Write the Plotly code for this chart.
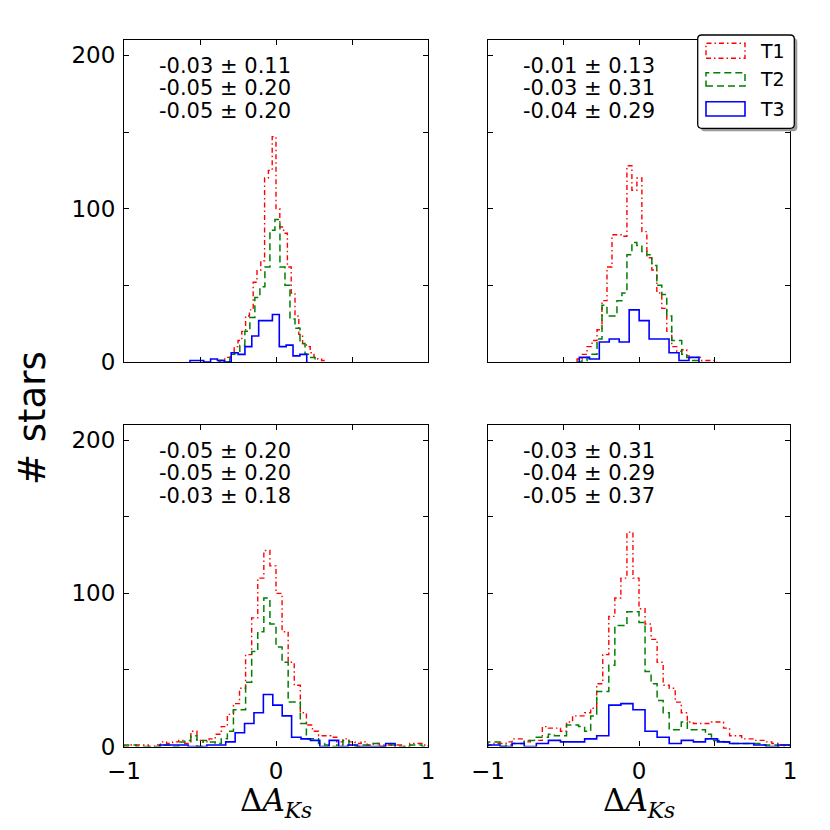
import numpy as np
import plotly.graph_objects as go
from plotly.subplots import make_subplots

W = H = 830

# ---------------- data (bin start, bin width, counts) ----------------
# Panel A (top-left)
A_T1_start, A_T1_w = -0.375, 0.025
A_T1 = [1, 2, 3, 5, 10, 14, 20, 30, 34, 52, 60, 66, 120, 125, 147, 100, 88, 84,
        62, 45, 30, 18, 12, 10, 6, 3, 2, 1]
A_T2_start, A_T2_w = -0.37, 0.033
A_T2 = [1, 0, 5, 6, 11, 20, 29, 42, 49, 62, 86, 93, 62, 50, 28, 22, 12, 5, 3]
A_T3_start, A_T3_w = -0.566, 0.0452
A_T3 = [1, 1, 0, 2, 1, 0, 6, 5, 10, 17, 27, 27, 31, 10, 11, 4, 5]

# Panel B (top-right)
B_T1_start, B_T1_w = -0.41, 0.033
B_T1 = [2, 5, 10, 14, 21, 40, 62, 83, 83, 82, 128, 112, 120, 85, 68, 60, 45,
        35, 20, 10, 7, 8, 4, 3, 3, 1, 1, 1]
B_T2_start, B_T2_w = -0.41, 0.033
B_T2 = [0, 1, 3, 5, 15, 37, 30, 30, 40, 45, 70, 78, 76, 72, 70, 63, 50, 44,
        30, 14, 14, 5, 3, 1, 1]
B_T3_start, B_T3_w = -0.395, 0.066
B_T3 = [3, 2, 13, 15, 13, 34, 27, 15, 15, 6, 1, 3]

# Panel C (bottom-left)
C_T1_start, C_T1_w = -1.0, 0.04
C_T1 = [0, 1, 1, 1, 0, 1, 3, 2, 3, 4, 2, 10, 4, 3, 5, 8, 13, 21, 28, 38, 60,
        84, 110, 128, 118, 100, 75, 55, 40, 22, 14, 10, 7, 7, 6, 3, 5, 3, 2,
        3, 1, 2, 1, 1, 0, 1, 0, 2, 2, 1]
C_T2_start, C_T2_w = -1.0, 0.04
C_T2 = [1, 1, 0, 0, 0, 0, 1, 1, 0, 3, 4, 7, 0, 4, 3, 2, 5, 10, 24, 24, 42,
        62, 75, 97, 80, 65, 55, 29, 29, 15, 5, 5, 2, 1, 0, 1, 4, 1, 0, 1, 1,
        2, 0, 1, 1, 0, 0, 1, 1, 0]
C_T3_start, C_T3_w = -0.764, 0.0619
C_T3 = [1, 1, 1, 0, 0, 1, 1, 3, 9, 15, 22, 34, 27, 20, 6, 5, 4, 0, 4, 0, 1,
        0, 0, 0, 2]

# Panel D (bottom-right)
D_T1_start, D_T1_w = -1.0, 0.04
D_T1 = [1, 2, 2, 3, 5, 5, 3, 4, 4, 13, 12, 12, 10, 16, 20, 20, 22, 25, 41,
        60, 85, 97, 110, 140, 110, 90, 80, 70, 55, 40, 38, 29, 22, 16, 15, 15,
        15, 16, 16, 12, 7, 7, 5, 5, 4, 4, 3, 2, 1, 1]
D_T2_start, D_T2_w = -1.0, 0.04
D_T2 = [3, 3, 0, 1, 2, 2, 4, 4, 6, 6, 8, 7, 7, 14, 14, 13, 10, 20, 36, 36,
        53, 79, 79, 88, 88, 81, 49, 41, 30, 22, 11, 11, 16, 11, 11, 11, 8, 4,
        4, 3, 2, 2, 2, 2, 2, 1, 1, 1, 0, 1]
D_T3_start, D_T3_w = -1.0, 0.08
D_T3 = [1, 0, 2, 0, 2, 4, 3, 3, 5, 7, 27, 28, 24, 10, 6, 2, 4, 3, 5, 3, 2, 2,
        1, 0, 1]

stats_A = ["-0.03 ± 0.11", "-0.05 ± 0.20", "-0.05 ± 0.20"]
stats_B = ["-0.01 ± 0.13", "-0.03 ± 0.31", "-0.04 ± 0.29"]
stats_C = ["-0.05 ± 0.20", "-0.05 ± 0.20", "-0.03 ± 0.18"]
stats_D = ["-0.03 ± 0.31", "-0.04 ± 0.29", "-0.05 ± 0.37"]

series_names = ["T1", "T2", "T3"]
x_tickvals = [-1, 0, 1]
x_ticktext = ["−1", "0", "1"]
x_minor = [-0.5, 0.5]
y_tickvals = [0, 100, 200]
y_ticktext = ["0", "100", "200"]
y_minor = [50, 150]

# ---------------- styles ----------------
COL = {"T1": "#ff0000", "T2": "#008000", "T3": "#0000ff"}
DASH = {"T1": "5px,3px,1.5px,3px", "T2": "7px,4px", "T3": "solid"}
LW = {"T1": 1.4, "T2": 1.5, "T3": 1.6}


def step_xy(start, width, counts):
    edges = start + width * np.arange(len(counts) + 1)
    x = [edges[0]] + list(edges[:-1]) + [edges[-1]]
    y = [0] + list(counts) + [0]
    return x, y


panels = [
    (1, 1, [(A_T1_start, A_T1_w, A_T1), (A_T2_start, A_T2_w, A_T2), (A_T3_start, A_T3_w, A_T3)], stats_A),
    (1, 2, [(B_T1_start, B_T1_w, B_T1), (B_T2_start, B_T2_w, B_T2), (B_T3_start, B_T3_w, B_T3)], stats_B),
    (2, 1, [(C_T1_start, C_T1_w, C_T1), (C_T2_start, C_T2_w, C_T2), (C_T3_start, C_T3_w, C_T3)], stats_C),
    (2, 2, [(D_T1_start, D_T1_w, D_T1), (D_T2_start, D_T2_w, D_T2), (D_T3_start, D_T3_w, D_T3)], stats_D),
]

fig = make_subplots(rows=2, cols=2)

for r, c, series, _ in panels:
    for name, (s, w, cnt) in zip(series_names, series):
        x, y = step_xy(s, w, cnt)
        fig.add_trace(go.Scatter(x=x, y=y, mode="lines", line_shape="hv",
                                 line=dict(color=COL[name], width=LW[name], dash=DASH[name]),
                                 name=name, showlegend=False, hoverinfo="skip"),
                      row=r, col=c)

# pixel geometry
colx = {1: (124, 428), 2: (488, 790)}
rowy = {1: (40, 362), 2: (425, 746.5)}

def px(v):
    return v / W

def py(v):
    return 1 - v / H

axis_common = dict(showline=True, linecolor="black", linewidth=1.2, mirror="ticks",
                   ticks="inside", ticklen=5, tickwidth=1, tickcolor="black",
                   showgrid=False, zeroline=False, automargin=False,
                   tickfont=dict(family="DejaVu Sans", size=23, color="black"))

for r in (1, 2):
    for c in (1, 2):
        fig.update_xaxes(domain=[px(colx[c][0]), px(colx[c][1])], range=[-1, 1],
                         tickvals=x_tickvals, ticktext=x_ticktext,
                         minor=dict(tickvals=x_minor, ticks="inside", ticklen=5,
                                    tickwidth=1, tickcolor="black", showgrid=False),
                         showticklabels=(r == 2), ticklabelstandoff=4,
                         row=r, col=c, **axis_common)
        fig.update_yaxes(domain=[py(rowy[r][1]), py(rowy[r][0])], range=[0, 210],
                         tickvals=y_tickvals, ticktext=y_ticktext,
                         minor=dict(tickvals=y_minor, ticks="inside", ticklen=5,
                                    tickwidth=1, tickcolor="black", showgrid=False),
                         showticklabels=(c == 1), ticklabelstandoff=3,
                         row=r, col=c, **axis_common)

annotations = []
for r, c, _, stats in panels:
    x0 = colx[c][0] + 33
    for i, t in enumerate(stats):
        yc = rowy[r][0] + 25.8 + 22.5 * i
        annotations.append(dict(x=px(x0), y=py(yc), xref="paper", yref="paper",
                                text=t, showarrow=False, xanchor="left", yanchor="middle",
                                font=dict(family="DejaVu Sans", size=21, color="black")))

# x-axis titles
for c in (1, 2):
    xc = (colx[c][0] + colx[c][1]) / 2
    annotations.append(dict(x=px(xc), y=py(802), xref="paper", yref="paper",
                            text="Δ<i>A</i><sub><i>Ks</i></sub>", showarrow=False,
                            xanchor="center", yanchor="middle",
                            font=dict(family="DejaVu Serif", size=31, color="black")))

# y-axis title
annotations.append(dict(x=px(32), y=py(418), xref="paper", yref="paper",
                        text="# stars", showarrow=False, textangle=-90,
                        xanchor="center", yanchor="middle",
                        font=dict(family="DejaVu Sans", size=37, color="black")))

# legend (drawn manually to mimic matplotlib patch legend)
shapes = []
lx0, lx1, ly0, ly1 = 697.7, 794.3, 35, 128.3

def rounded_path(x0, y0, x1, y1, rad):
    X = lambda v: px(v)
    Y = lambda v: py(v)
    return (f"M {X(x0+rad)},{Y(y0)} L {X(x1-rad)},{Y(y0)} Q {X(x1)},{Y(y0)} {X(x1)},{Y(y0+rad)} "
            f"L {X(x1)},{Y(y1-rad)} Q {X(x1)},{Y(y1)} {X(x1-rad)},{Y(y1)} "
            f"L {X(x0+rad)},{Y(y1)} Q {X(x0)},{Y(y1)} {X(x0)},{Y(y1-rad)} "
            f"L {X(x0)},{Y(y0+rad)} Q {X(x0)},{Y(y0)} {X(x0+rad)},{Y(y0)} Z")

shapes.append(dict(type="path", xref="paper", yref="paper", layer="above",
                   path=rounded_path(lx0 + 3, ly0 + 3, lx1 + 3, ly1 + 3, 4),
                   fillcolor="#9a9a9a", line=dict(width=0)))
shapes.append(dict(type="path", xref="paper", yref="paper", layer="above",
                   path=rounded_path(lx0, ly0, lx1, ly1, 4),
                   fillcolor="white", line=dict(color="black", width=1.3)))

patch_y = [(43.3, 58.3), (72.7, 86.0), (101.7, 116.0)]
for name, (y0, y1) in zip(series_names, patch_y):
    shapes.append(dict(type="rect", xref="paper", yref="paper", layer="above",
                       x0=px(706), x1=px(745), y0=py(y1), y1=py(y0),
                       line=dict(color=COL[name], width=LW[name], dash=DASH[name]),
                       fillcolor="rgba(0,0,0,0)"))
    annotations.append(dict(x=px(758), y=py((y0 + y1) / 2), xref="paper", yref="paper",
                            text=name, showarrow=False, xanchor="left", yanchor="middle",
                            font=dict(family="DejaVu Sans", size=19, color="black")))

fig.update_layout(width=W, height=H, margin=dict(l=0, r=0, t=0, b=0),
                  paper_bgcolor="white", plot_bgcolor="white",
                  annotations=annotations, shapes=shapes, showlegend=False)

fig.write_html("out.html", config={"displayModeBar": False},
               post_script="document.body.style.margin='0';document.body.style.padding='0';")
